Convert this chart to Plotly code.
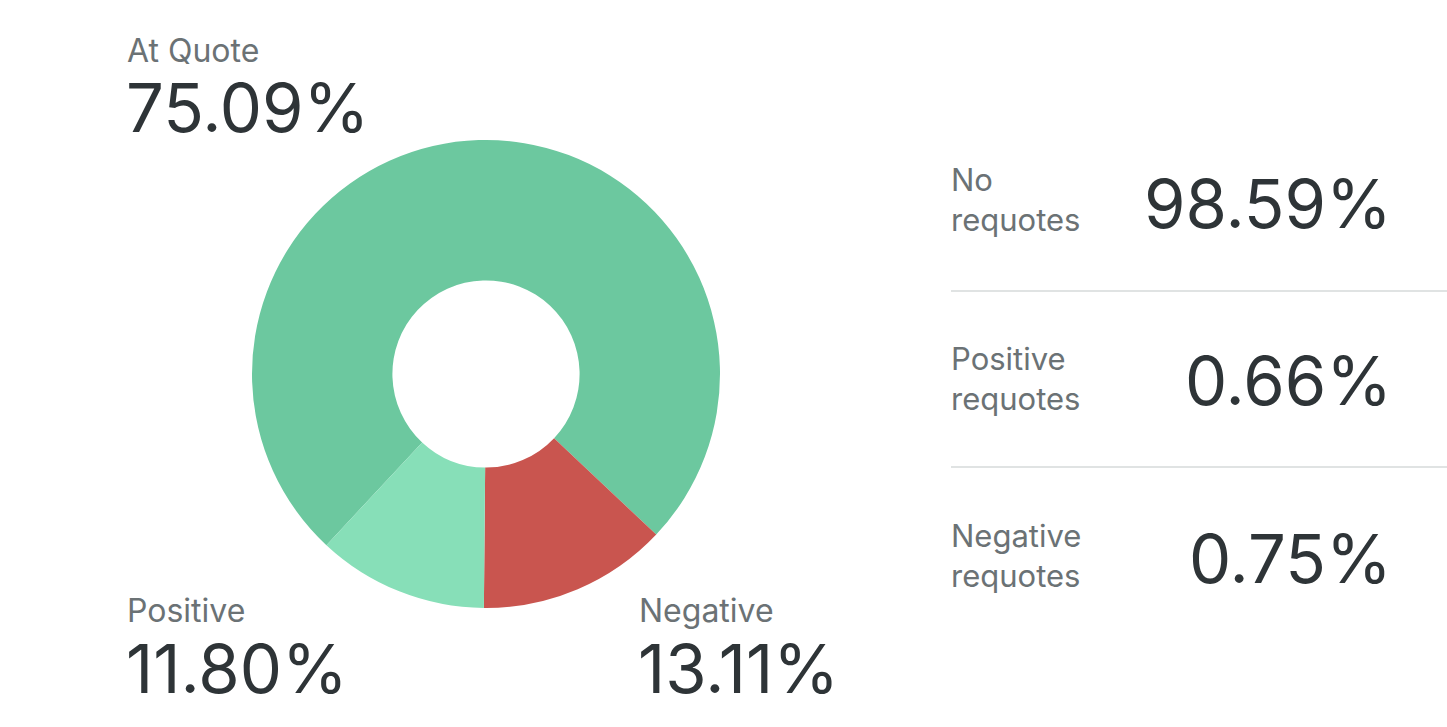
import plotly.graph_objects as go

# Data
slice_labels = ["At Quote", "Negative", "Positive"]
slice_values = [75.09, 13.11, 11.80]
slice_colors = ["#6cc89f", "#c9554f", "#87dfb8"]

requote_labels = ["No<br>requotes", "Positive<br>requotes", "Negative<br>requotes"]
requote_values = [98.59, 0.66, 0.75]

W, H = 1447, 727
FONT = "Inter"
LABEL_C = "#6b7275"
VALUE_C = "#2e3437"

def px(x):
    return x / W

def py(y):
    return 1 - y / H

cx, cy, r = 486, 374, 234

fig = go.Figure()
fig.add_trace(go.Pie(
    labels=slice_labels,
    values=slice_values,
    marker=dict(colors=slice_colors, line=dict(width=0)),
    hole=0.4,
    sort=False,
    direction="clockwise",
    rotation=223,
    textinfo="none",
    hoverinfo="label+percent",
    showlegend=False,
    domain=dict(x=[px(cx - r), px(cx + r)], y=[py(cy + r), py(cy - r)]),
))

annotations = []
donut_pos = {"At Quote": (125, 51, 108), "Positive": (125, 610, 668), "Negative": (637, 610, 668)}
for name, val in zip(slice_labels, slice_values):
    x, ly, vy = donut_pos[name]
    annotations.append(dict(x=px(x), y=py(ly), xref="paper", yref="paper", text=name,
                            xanchor="left", yanchor="middle", showarrow=False,
                            font=dict(family=FONT, size=32, color=LABEL_C)))
    annotations.append(dict(x=px(x - 1), y=py(vy), xref="paper", yref="paper", text=f"{val:.2f}%",
                            xanchor="left", yanchor="middle", showarrow=False,
                            font=dict(family=FONT, size=67, color=VALUE_C)))

label_y = [200, 378, 555]
value_y = [203, 380, 558]
for lab, val, ly, vy in zip(requote_labels, requote_values, label_y, value_y):
    annotations.append(dict(x=px(949), y=py(ly), xref="paper", yref="paper", text=lab,
                            xanchor="left", yanchor="middle", align="left", showarrow=False,
                            font=dict(family=FONT, size=31, color=LABEL_C)))
    annotations.append(dict(x=px(1394), y=py(vy), xref="paper", yref="paper", text=f"{val:.2f}%",
                            xanchor="right", yanchor="middle", showarrow=False,
                            font=dict(family=FONT, size=67, color=VALUE_C)))

shapes = []
for yl in [291, 467]:
    shapes.append(dict(type="line", xref="paper", yref="paper", x0=px(951), x1=1, y0=py(yl), y1=py(yl),
                       line=dict(color="#e0e3e3", width=2)))

fig.update_layout(
    width=W, height=H, autosize=False,
    margin=dict(l=0, r=0, t=0, b=0),
    paper_bgcolor="white", plot_bgcolor="white",
    annotations=annotations, shapes=shapes,
    font=dict(family=FONT),
)

fig.write_html("out.html")
